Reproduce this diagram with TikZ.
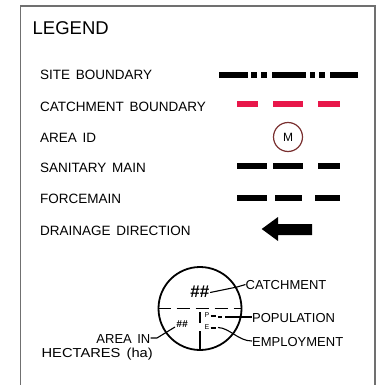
\documentclass[tikz,border=0pt]{standalone}
\usepackage{fontspec}
\setmainfont{Liberation Sans}[WordSpace=1.5]
\definecolor{legred}{HTML}{E8174A}
\definecolor{idcol}{HTML}{7A3030}
\definecolor{framecol}{HTML}{707070}
\begin{document}
\begin{tikzpicture}[x=1pt,y=-1pt,
  lbl/.style={anchor=base west, inner sep=0pt, font=\fontsize{13.5}{15}\selectfont},
  sml/.style={anchor=base west, inner sep=0pt, font=\fontsize{13}{14}\selectfont},
  smlr/.style={anchor=base east, inner sep=0pt, font=\fontsize{13}{14}\selectfont},
  bar/.style={line width=6pt},
  leader/.style={line width=1.1pt},
]
\useasboundingbox (0,0) rectangle (379,385);
% frame
\draw[framecol, line width=1.6pt] (20.5,390) -- (20.5,6) -- (375,6) -- (375,390);
% title
\node[anchor=base west, inner sep=0pt, font=\fontsize{18.5}{20}\selectfont] (title) at (32.5,35) {LEGEND};
% labels
\node[lbl] (l1) at (40,80) {SITE BOUNDARY};
\node[lbl] (l2) at (40,111) {CATCHMENT BOUNDARY};
\node[lbl] (l3) at (40,142) {AREA ID};
\node[lbl] (l4) at (40,172.5) {SANITARY MAIN};
\node[lbl] (l5) at (40,203.5) {FORCEMAIN};
\node[lbl] (l6) at (40,235) {DRAINAGE DIRECTION};
% site boundary
\draw[bar, dash pattern=on 29pt off 3pt on 6pt off 4pt on 6pt off 5pt on 34pt off 4pt on 5pt off 4pt on 6pt off 5pt on 40pt off 100pt] (219,75.5) -- (358,75.5);
% catchment boundary
\draw[bar, legred, line width=5.5pt] (237,104) -- (258,104) (273,104) -- (303,104) (318,104) -- (340,104);
% area id
\node[draw=idcol, line width=1.2pt, circle, minimum size=29pt, inner sep=0pt, font=\fontsize{12}{12}\selectfont] (aid) at (288,137) {M};
% sanitary main
\draw[bar] (237,166) -- (267,166) (273,166) -- (303,166) (318,166) -- (340,166);
% forcemain
\draw[bar] (237,198) -- (267,198) (275,198) -- (302,198) (315,198) -- (340,198);
% drainage arrow
\fill (261.7,229) -- (278,217) -- (278,224) -- (312,224) -- (312,235) -- (278,235) -- (278,241) -- cycle;
% catchment symbol
\node[draw, circle, line width=1.8pt, minimum size=83pt, inner sep=0pt] (cc) at (200,308.5) {};
\draw[line width=1.8pt, dash pattern=on 13pt off 6pt] (cc.west) -- (cc.east);
\draw[line width=1.8pt] (200,312) -- (200,323) (200,331) -- (cc.south);
\node[inner sep=0pt, font=\fontsize{17}{17}\selectfont\bfseries\itshape] (hh) at (199.5,291.5) {\#\#};
\node[inner sep=0pt, font=\fontsize{10}{10}\selectfont\bfseries\itshape] (hs) at (182,324) {\#\#};
\node[inner sep=0pt, font=\fontsize{7}{7}\selectfont] (pp) at (207,315.5) {P};
\node[inner sep=0pt, font=\fontsize{7}{7}\selectfont] (ee) at (207,327.5) {E};
\node[sml] (tc) at (245.5,289) {CATCHMENT};
\node[sml] (tp) at (252,322.5) {POPULATION};
\node[sml] (te) at (252,346.5) {EMPLOYMENT};
\node[smlr] (ta) at (150.5,343) {AREA IN};
\node[smlr, xscale=1.13] (th) at (153,357) {HECTARES (ha)};
\draw[leader] (hh.east) ++(1,1) -- (237,287) -- (tc.west);
\draw[line width=2pt] (pp.east) ++(1,0.5) -- ++(5,0);
\draw[line width=2pt] (ee.east) ++(1,0) -- ++(5,0);
\draw[leader] (218,317) -- (222,317) (225,317) -- (tp.west |- 0,317);
\draw[leader] (218,327.5) .. controls (230,328) and (238,341) .. (te.west |- 0,341);
\draw[leader] (ta.east |- 0,338) -- (157,338) -- (175,327);
\end{tikzpicture}
\end{document}
